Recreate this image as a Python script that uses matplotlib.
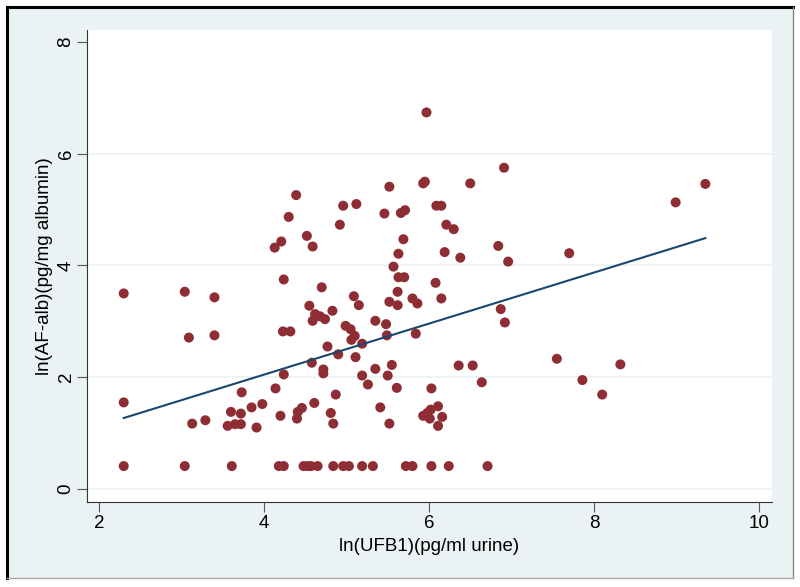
import matplotlib
matplotlib.use('Agg')
from matplotlib import pyplot as plt
from matplotlib.lines import Line2D

plt.rcParams['font.family'] = ['Liberation Sans', 'DejaVu Sans']

ufb1 = [5.97, 6.91, 5.93, 5.95, 6.50, 9.35, 5.52, 4.39, 4.96, 5.12, 6.09, 6.15, 8.99,
        5.46, 5.66, 5.71, 4.30, 4.92, 6.21, 6.30, 4.52, 5.69, 4.13, 4.21, 4.59, 6.84,
        5.63, 6.19, 7.70, 6.38, 6.96, 5.57, 5.63, 5.70, 4.24, 6.08, 4.70, 2.30, 3.04,
        3.40, 5.09, 5.62, 6.15, 5.80, 5.86, 5.52, 5.62, 5.15, 4.55, 4.83, 4.62, 4.68,
        4.74, 4.59, 6.87, 6.92, 5.35, 5.48, 4.99, 5.05, 5.10, 5.06, 5.49, 5.84, 4.23,
        4.32, 3.09, 3.40, 5.19, 4.77, 4.90, 5.11, 7.55, 4.58, 5.55, 6.36, 6.53, 8.32,
        5.35, 4.72, 4.72, 4.24, 5.19, 5.50, 5.26, 6.64, 7.86, 3.73, 4.14, 5.61, 6.03,
        4.87, 8.10, 2.30, 3.98, 4.61, 3.85, 3.60, 3.72, 4.46, 4.41, 5.41, 6.11, 6.02,
        5.98, 3.29, 3.13, 3.56, 3.65, 3.72, 3.91, 4.20, 4.40, 4.81, 4.84, 5.52, 5.93,
        6.01, 6.16, 6.11,
        2.30, 3.04, 3.61, 4.18, 4.24, 4.48, 4.53, 4.57, 4.65, 4.84, 4.96, 5.03, 5.19,
        5.32, 5.72, 5.80, 6.03, 6.24, 6.71]
afalb = [6.74, 5.75, 5.47, 5.50, 5.47, 5.46, 5.41, 5.26, 5.07, 5.10, 5.07, 5.07, 5.13,
         4.93, 4.94, 4.99, 4.87, 4.73, 4.73, 4.65, 4.53, 4.47, 4.32, 4.43, 4.34, 4.35,
         4.21, 4.24, 4.22, 4.14, 4.07, 3.98, 3.79, 3.79, 3.75, 3.69, 3.61, 3.50, 3.53,
         3.43, 3.45, 3.53, 3.41, 3.41, 3.32, 3.35, 3.29, 3.29, 3.28, 3.19, 3.13, 3.09,
         3.04, 3.01, 3.22, 2.98, 3.01, 2.95, 2.92, 2.86, 2.74, 2.67, 2.75, 2.78, 2.82,
         2.82, 2.71, 2.75, 2.60, 2.55, 2.41, 2.36, 2.33, 2.26, 2.22, 2.21, 2.21, 2.23,
         2.15, 2.14, 2.07, 2.05, 2.03, 2.03, 1.87, 1.91, 1.95, 1.73, 1.80, 1.81, 1.80,
         1.69, 1.69, 1.55, 1.52, 1.54, 1.46, 1.38, 1.35, 1.45, 1.38, 1.46, 1.48, 1.42,
         1.36, 1.23, 1.17, 1.13, 1.16, 1.16, 1.10, 1.31, 1.26, 1.36, 1.17, 1.17, 1.31,
         1.26, 1.29, 1.13,
         0.41, 0.41, 0.41, 0.41, 0.41, 0.41, 0.41, 0.41, 0.41, 0.41, 0.41, 0.41, 0.41,
         0.41, 0.41, 0.41, 0.41, 0.41, 0.41]

# fitted line ends
fit_x = [2.30, 9.35]
fit_y = [1.27, 4.49]

xticks = [2, 4, 6, 8, 10]
yticks = [0, 2, 4, 6, 8]

bg = '#eaf2f3'
fig = plt.figure(figsize=(8, 5.87), dpi=100)
fig.patch.set_facecolor('white')

# stata style frame round the graph region
fig.patches.append(plt.Rectangle((7/800, 1 - 578/587), 786/800, 571/587,
                                 transform=fig.transFigure, facecolor=bg,
                                 edgecolor='none', zorder=-2))
fig.lines.append(Line2D([7/800, 7/800], [1 - 578/587, 1 - 7/587], transform=fig.transFigure,
                        color='black', lw=2.2, zorder=-1))
fig.lines.append(Line2D([7/800, 793/800], [1 - 7/587, 1 - 7/587], transform=fig.transFigure,
                        color='black', lw=2.2, zorder=-1))
fig.lines.append(Line2D([793/800, 793/800], [1 - 578/587, 1 - 7/587], transform=fig.transFigure,
                        color='#888888', lw=1, zorder=-1))
fig.lines.append(Line2D([7/800, 793/800], [1 - 578/587, 1 - 578/587], transform=fig.transFigure,
                        color='#aaaaaa', lw=1, zorder=-1))

ax = fig.add_axes([87/800, 1 - 502/587, 685/800, 472/587])
ax.set_zorder(5)
ax.set_facecolor('white')

for g in [0, 2, 4, 6]:
    ax.axhline(g, color=bg, lw=1.2, zorder=1)

ax.scatter(ufb1, afalb, s=52, color='#8f2d35', edgecolors='none', zorder=3)
ax.plot(fit_x, fit_y, color='#1a476f', lw=1.5, zorder=4)

ax.set_xlim(1.855, 10.158)
ax.set_ylim(-0.233, 8.215)
ax.set_xticks(xticks)
ax.set_yticks(yticks)
ax.tick_params(axis='both', length=7, width=0.8, color='#555555', labelsize=13.5, pad=2)
plt.setp(ax.get_yticklabels(), rotation=90, va='center')

for side in ['top', 'right']:
    ax.spines[side].set_visible(False)
ax.spines['left'].set_color('#333333')
ax.spines['bottom'].set_color('#333333')

ax.set_xlabel('ln(UFB1)(pg/ml urine)', fontsize=13.5, labelpad=5)
ax.set_ylabel('ln(AF-alb)(pg/mg albumin)', fontsize=13.5, labelpad=3)

plt.savefig('out.png', dpi=100, facecolor='white')
